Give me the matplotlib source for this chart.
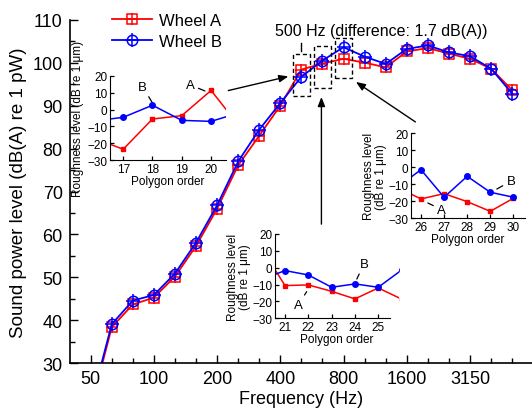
import matplotlib
matplotlib.use("Agg")
import matplotlib.pyplot as plt
from matplotlib.patches import Rectangle
from matplotlib.legend_handler import HandlerTuple

plt.rcParams['font.family'] = ['Liberation Sans', 'DejaVu Sans']

# ---------------- data ----------------
bands = ['50', '63', '80', '100', '125', '160', '200', '250', '315', '400',
         '500', '630', '800', '1000', '1250', '1600', '2000', '2500', '3150',
         '4000', '5000']
wheel_a = [19.5, 38.4, 43.7, 45.3, 50.2, 57.3, 66.0, 76.1, 83.0, 90.0,
           98.4, 99.8, 100.9, 100.0, 98.9, 102.6, 103.4, 102.1, 100.9, 98.6, 93.6]
wheel_b = [20.3, 39.1, 44.6, 45.9, 50.9, 58.1, 66.8, 77.0, 84.4, 90.6,
           96.7, 100.5, 103.6, 101.4, 99.7, 103.2, 104.0, 102.4, 101.5, 98.6, 92.8]
labeled_bands = ['50', '100', '200', '400', '800', '1600', '3150']

orders = [16, 17, 18, 19, 20, 21, 22, 23, 24, 25, 26, 27, 28, 29, 30]
rough_a = [-17.0, -23.6, -5.6, -3.6, 11.4, -10.6, -10.2, -14.0, -18.5, -12.0,
           -18.6, -15.5, -20.2, -25.9, -18.2]
rough_b = [-6.8, -4.6, 2.6, -6.4, -7.0, -1.7, -4.3, -11.6, -9.6, -11.6,
           -1.4, -17.6, -5.3, -14.7, -17.6]

# ---------------- figure ----------------
W, H = 532, 414
fig = plt.figure(figsize=(W / 100, H / 100), dpi=100)


def px_rect(l, t, r, b):
    return [l / W, 1 - b / H, (r - l) / W, (b - t) / H]


ax = fig.add_axes(px_rect(69.6, 20.7, 533.2, 364.3))
x = list(range(len(bands)))

la, = ax.plot(x, wheel_a, color='red', lw=1.3, marker='s', ms=7,
              mfc='none', mec='red', mew=1.1)
pa, = ax.plot(x, wheel_a, ls='none', marker='+', ms=9, color='red', mew=1.1)
lb, = ax.plot(x, wheel_b, color='blue', lw=1.3, marker='o', ms=7.5,
              mfc='none', mec='blue', mew=1.1)
pb, = ax.plot(x, wheel_b, ls='none', marker='+', ms=9.5, color='blue', mew=1.1)

ax.set_xlim(-1, 21)
ax.set_ylim(30, 110)
major_idx = [bands.index(b) for b in labeled_bands]
minor_idx = [i for i in x if i not in major_idx]
ax.set_xticks(major_idx)
ax.set_xticklabels(labeled_bands)
ax.set_xticks(minor_idx, minor=True)
ax.set_yticks(range(30, 111, 10))
ax.set_yticks(range(35, 110, 10), minor=True)
ax.tick_params(which='both', direction='in', labelsize=13, width=1)
ax.tick_params(which='major', length=6, pad=5)
ax.tick_params(which='minor', length=3.5)
for s in ['top', 'right']:
    ax.spines[s].set_visible(False)
for s in ['left', 'bottom']:
    ax.spines[s].set_linewidth(1.2)
ax.set_xlabel('Frequency (Hz)', fontsize=13, labelpad=2)
ax.set_ylabel('Sound power level (dB(A) re 1 pW)', fontsize=13.5, labelpad=4)

leg = ax.legend([(la, pa), (lb, pb)], ['Wheel A', 'Wheel B'],
                handler_map={tuple: HandlerTuple(ndivide=1, pad=0)},
                loc='upper left', bbox_to_anchor=(112 / W, 1 - 14 / H),
                bbox_transform=fig.transFigure, frameon=False, fontsize=12,
                handlelength=2.4, handletextpad=0.4, labelspacing=0.35,
                borderpad=0, borderaxespad=0, numpoints=1)

# dashed boxes around 500, 630, 800 Hz
boxes = [(10, 92.2, 102.0), (11, 94.1, 103.9), (12, 96.4, 105.7)]
for bx, y0, y1 in boxes:
    ax.add_patch(Rectangle((bx - 0.4, y0), 0.8, y1 - y0, fill=False,
                           ls=(0, (3, 2)), lw=1.0, ec='black', zorder=5))
ax.plot([10, 10], [102.8, 104.6], color='black', lw=1.0)
ax.text(8.75, 107.4, '500 Hz (difference: 1.7 dB(A))', fontsize=11.5,
        ha='left', va='center')

arrow_kw = dict(arrowstyle='-|>,head_length=0.5,head_width=0.2',
                color='black', lw=1.0, mutation_scale=11,
                shrinkA=0, shrinkB=0)
ax.annotate('', xy=(9.38, 96.8), xytext=(6.53, 93.5), arrowprops=arrow_kw)
ax.annotate('', xy=(10.95, 92.0), xytext=(10.95, 62.4), arrowprops=arrow_kw)
ax.annotate('', xy=(12.59, 95.5), xytext=(15.41, 86.2), arrowprops=arrow_kw)


# ---------------- insets ----------------
def make_inset(rect, xlim, xticks, ylabel, labelpad, spine_right=None,
               notes=()):
    a = fig.add_axes(px_rect(*rect))
    a.set_facecolor('none')
    a.plot(orders, rough_a, color='red', lw=1.1, marker='s', ms=3.3)
    a.plot(orders, rough_b, color='blue', lw=1.1, marker='o', ms=4)
    a.set_xlim(*xlim)
    a.set_ylim(-30, 20)
    a.set_xticks(xticks)
    a.set_yticks(range(-30, 21, 10))
    a.tick_params(direction='in', length=3, width=0.9, labelsize=8.5, pad=2)
    for s in ['top', 'right']:
        a.spines[s].set_visible(False)
    if spine_right is not None:
        a.spines['bottom'].set_bounds(xlim[0], spine_right)
    a.set_xlabel('Polygon order', fontsize=8.5, labelpad=0)
    a.set_ylabel(ylabel, fontsize=8.5, labelpad=labelpad, linespacing=1.0)
    for txt, xy, xyt in notes:
        a.annotate(txt, xy=xy, xytext=xyt, fontsize=9.5, ha='center',
                   va='center',
                   arrowprops=dict(arrowstyle='-', lw=0.9, color='black',
                                   shrinkA=1, shrinkB=0))
    return a


make_inset((110, 77, 226, 161), (16.55, 20.51), [17, 18, 19, 20],
           'Roughness level (dB re 1 μm)', 2,
           notes=[('B', (17.98, 4.5), (17.67, 13.6)),
                  ('A', (19.79, 11.1), (19.28, 14.8))])
make_inset((275, 235, 399, 319.3), (20.57, 25.89), [21, 22, 23, 24, 25],
           'Roughness level\n(dB re 1 μm)', 1, spine_right=25.5,
           notes=[('B', (24.08, -6.7), (24.39, 2.2)),
                  ('A', (21.93, -14.2), (21.56, -22.1))])
make_inset((411, 134.3, 525, 219.3), (25.57, 30.5), [26, 27, 28, 29, 30],
           'Roughness level\n(dB re 1 μm)', 1,
           notes=[('B', (29.28, -12.8), (29.9, -8.1)),
                  ('A', (26.30, -21.0), (26.9, -24.9))])

fig.savefig('out.png', dpi=100)
